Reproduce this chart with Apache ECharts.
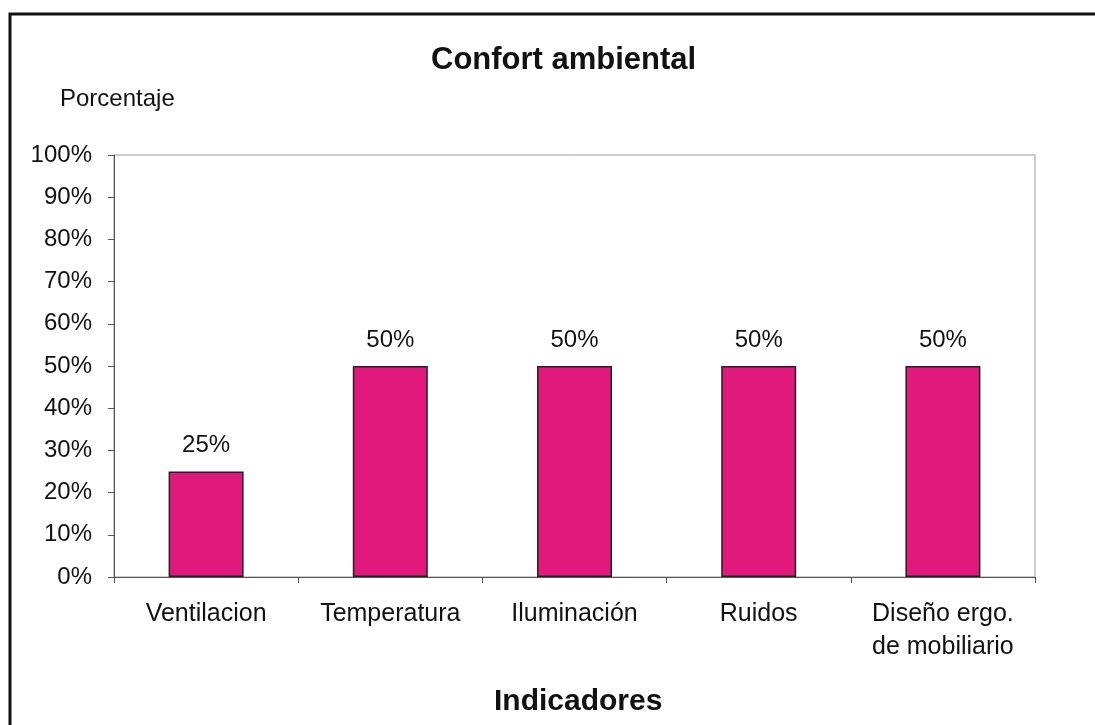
<!DOCTYPE html>
<html>
<head>
<meta charset="utf-8">
<style>
  html, body { margin: 0; padding: 0; background: #fff; }
  #chart { width: 1095px; height: 725px; }
</style>
<script src="https://cdn.jsdelivr.net/npm/echarts@6/dist/echarts.min.js"></script>
</head>
<body>
<div id="chart"></div>
<script>
// categories and values
const categories = ['Ventilacion', 'Temperatura', 'Iluminación', 'Ruidos', 'Diseño ergo.\nde mobiliario']
const values = [25, 50, 50, 50, 50]
const yTicks = [0, 10, 20, 30, 40, 50, 60, 70, 80, 90, 100]

const chart = echarts.init(document.getElementById('chart'))
const font = 'Liberation Sans, Arial, sans-serif'

chart.setOption({
  animation: false,
  title: {
    text: 'Confort ambiental',
    left: 426, top: 40,
    textStyle: { fontFamily: font, fontSize: 31, fontWeight: 'bold', color: '#111' }
  },
  // plot area: gray border on top/right, axes cover left/bottom
  grid: { left: 114, right: 60, top: 155, bottom: 148, show: true, borderColor: '#9a9a9a', borderWidth: 1 },
  // outer frame (right/bottom are cut off in the reference)
  graphic: [
    { type: 'rect', shape: { x: 10, y: 14, width: 1200, height: 800 },
      style: { fill: 'none', stroke: '#111', lineWidth: 3 } },
    { type: 'text', left: 60, top: 87,
      style: { text: 'Porcentaje', font: '24px ' + font, fill: '#111' } },
    { type: 'text', left: 494, top: 687,
      style: { text: 'Indicadores', font: 'bold 30px ' + font, fill: '#111' } }
  ],
  xAxis: {
    type: 'category',
    data: categories,
    axisLine: { lineStyle: { color: '#555', width: 1 } },
    axisTick: { show: true, length: 6, lineStyle: { color: '#555' } },
    axisLabel: { color: '#111', fontSize: 25, fontFamily: font, margin: 21, lineHeight: 33, interval: 0 },
    splitLine: { show: false }
  },
  yAxis: {
    type: 'value',
    min: 0, max: 100, interval: 10,
    axisLine: { show: true, lineStyle: { color: '#555', width: 1 } },
    axisTick: { show: true, length: 6, lineStyle: { color: '#555' } },
    axisLabel: {
      color: '#111', fontSize: 24, fontFamily: font, margin: 22,
      formatter: v => yTicks.includes(v) ? v + '%' : ''
    },
    splitLine: { show: false }
  },
  series: [
    {
      type: 'bar',
      data: values,
      barWidth: 75,
      itemStyle: { color: '#E2197D', borderColor: '#222', borderWidth: 1.5 },
      label: {
        show: true, position: 'top', distance: 14,
        formatter: p => p.value + '%',
        color: '#111', fontSize: 24, fontFamily: font
      }
    }
  ]
})
</script>
</body>
</html>
